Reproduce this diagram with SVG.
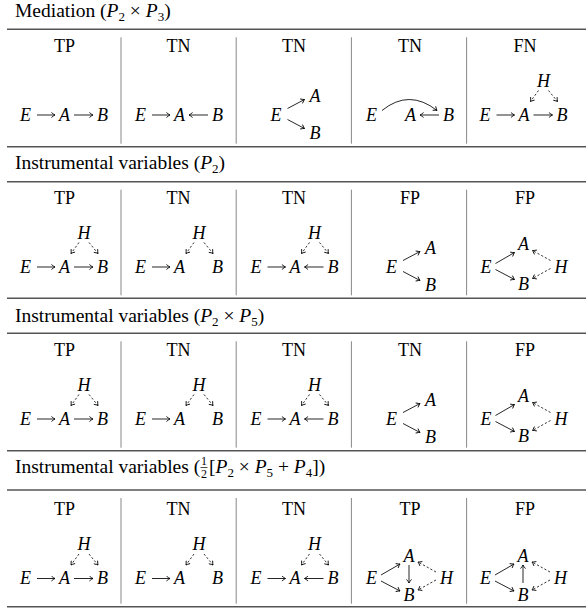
<svg xmlns="http://www.w3.org/2000/svg" width="586" height="610" viewBox="0 0 586 610" font-family="'Liberation Serif', 'Times New Roman', serif">
<style>
text{font-family:"Liberation Serif","Times New Roman",serif;fill:#000}
.t{font-size:19.5px}
.lab{font-size:18px;text-anchor:middle}
.v{font-size:18px;font-style:italic}
.vm{font-size:18px;font-style:italic;text-anchor:middle}
.fr{font-size:12px;text-anchor:middle}
.rule{stroke:#555;stroke-width:1.6}
.div{stroke:#888;stroke-width:1}
.ar{stroke:#000;stroke-width:0.85;fill:none;marker-end:url(#ah)}
.da{stroke:#000;stroke-width:0.8;fill:none;stroke-dasharray:2.2 2;marker-end:url(#ah)}
</style>
<defs>
<marker id="ah" viewBox="-5 -3 6 6" refX="0" refY="0" markerWidth="6" markerHeight="6" markerUnits="userSpaceOnUse" orient="auto">
<path d="M-3.6,-2.5 Q-1.2,-0.5 0,0 Q-1.2,0.5 -3.6,2.5" fill="none" stroke="#000" stroke-width="0.85"/>
</marker>
</defs>
<rect width="586" height="610" fill="#fff"/>

<g id="frame">
<text class="t" x="15" y="17">Mediation (<tspan font-style="italic">P</tspan><tspan font-size="13" dy="4">2</tspan><tspan dy="-4"> × </tspan><tspan font-style="italic">P</tspan><tspan font-size="13" dy="4">3</tspan><tspan dy="-4">)</tspan></text>
<line class="rule" x1="7" y1="29.3" x2="586" y2="29.3"/>
<line class="rule" x1="7" y1="146.7" x2="586" y2="146.7"/>
<text class="t" x="15" y="168.5">Instrumental variables (<tspan font-style="italic">P</tspan><tspan font-size="13" dy="4">2</tspan><tspan dy="-4">)</tspan></text>
<line class="rule" x1="7" y1="181.7" x2="586" y2="181.7"/>
<line class="rule" x1="7" y1="298.3" x2="586" y2="298.3"/>
<text class="t" x="15" y="321.5">Instrumental variables (<tspan font-style="italic">P</tspan><tspan font-size="13" dy="4">2</tspan><tspan dy="-4"> × </tspan><tspan font-style="italic">P</tspan><tspan font-size="13" dy="4">5</tspan><tspan dy="-4">)</tspan></text>
<line class="rule" x1="7" y1="333.3" x2="586" y2="333.3"/>
<line class="rule" x1="7" y1="450.7" x2="586" y2="450.7"/>
<text class="t" x="15" y="473">Instrumental variables (</text>
<text class="fr" x="204" y="465">1</text>
<line x1="200.5" y1="467.5" x2="207.5" y2="467.5" stroke="#000" stroke-width="0.7"/>
<text class="fr" x="204" y="477.5">2</text>
<text class="t" x="209" y="473">[<tspan font-style="italic">P</tspan><tspan font-size="13" dy="4">2</tspan><tspan dy="-4"> × </tspan><tspan font-style="italic">P</tspan><tspan font-size="13" dy="4">5</tspan><tspan dy="-4"> + </tspan><tspan font-style="italic">P</tspan><tspan font-size="13" dy="4">4</tspan><tspan dy="-4">])</tspan></text>
<line class="rule" x1="7" y1="490" x2="586" y2="490"/>
<line class="rule" x1="7" y1="606.7" x2="586" y2="606.7"/>
<g class="div">
<line x1="121" y1="37.3" x2="121" y2="143.7"/><line x1="236.2" y1="37.3" x2="236.2" y2="143.7"/><line x1="351.4" y1="37.3" x2="351.4" y2="143.7"/><line x1="466.6" y1="37.3" x2="466.6" y2="143.7"/>
<line x1="121" y1="189.7" x2="121" y2="295.3"/><line x1="236.2" y1="189.7" x2="236.2" y2="295.3"/><line x1="351.4" y1="189.7" x2="351.4" y2="295.3"/><line x1="466.6" y1="189.7" x2="466.6" y2="295.3"/>
<line x1="121" y1="341.3" x2="121" y2="447.7"/><line x1="236.2" y1="341.3" x2="236.2" y2="447.7"/><line x1="351.4" y1="341.3" x2="351.4" y2="447.7"/><line x1="466.6" y1="341.3" x2="466.6" y2="447.7"/>
<line x1="121" y1="498" x2="121" y2="603.7"/><line x1="236.2" y1="498" x2="236.2" y2="603.7"/><line x1="351.4" y1="498" x2="351.4" y2="603.7"/><line x1="466.6" y1="498" x2="466.6" y2="603.7"/>
</g>
</g>

<!-- Row 1 -->
<g id="r1c1"><text class="lab" x="64.5" y="52">TP</text><text class="v" x="20" y="120.5">E</text><text class="v" x="59" y="120.5">A</text><text class="v" x="97" y="120.5">B</text></g>
<g id="r1c2"><text class="lab" x="178.5" y="52">TN</text><text class="v" x="135" y="120.5">E</text><text class="v" x="174" y="120.5">A</text><text class="v" x="212" y="120.5">B</text></g>
<g id="r1c3"><text class="lab" x="294" y="52">TN</text><text class="v" x="270.5" y="120.5">E</text><text class="v" x="309.5" y="102">A</text><text class="v" x="309.5" y="138.5">B</text></g>
<g id="r1c4"><text class="lab" x="410" y="52">TN</text><text class="v" x="366" y="120.5">E</text><text class="v" x="405" y="120.5">A</text><text class="v" x="443" y="120.5">B</text></g>
<g id="r1c5"><text class="lab" x="525" y="52">FN</text><text class="v" x="479.5" y="120.5">E</text><text class="v" x="518.5" y="120.5">A</text><text class="v" x="556.5" y="120.5">B</text><text class="vm" x="543.5" y="86.5">H</text></g>

<!-- Row 2 -->
<g id="r2c1"><text class="lab" x="64.5" y="204">TP</text><text class="v" x="20" y="272.5">E</text><text class="v" x="59" y="272.5">A</text><text class="v" x="97" y="272.5">B</text><text class="vm" x="84" y="238.5">H</text></g>
<g id="r2c2"><text class="lab" x="178.5" y="204">TN</text><text class="v" x="135" y="272.5">E</text><text class="v" x="174" y="272.5">A</text><text class="v" x="212" y="272.5">B</text><text class="vm" x="199" y="238.5">H</text></g>
<g id="r2c3"><text class="lab" x="294" y="204">TN</text><text class="v" x="250.5" y="272.5">E</text><text class="v" x="289.5" y="272.5">A</text><text class="v" x="327.5" y="272.5">B</text><text class="vm" x="314.5" y="238.5">H</text></g>
<g id="r2c4"><text class="lab" x="410" y="204">FP</text><text class="v" x="386" y="272.5">E</text><text class="v" x="425" y="254">A</text><text class="v" x="425" y="290.5">B</text></g>
<g id="r2c5"><text class="lab" x="525" y="204">FP</text><text class="v" x="480.5" y="272.5">E</text><text class="v" x="518" y="250">A</text><text class="v" x="518" y="289.5">B</text><text class="v" x="554.5" y="272.5">H</text></g>

<!-- Row 3 -->
<g id="r3c1"><text class="lab" x="64.5" y="355.5">TP</text><text class="v" x="20" y="424.5">E</text><text class="v" x="59" y="424.5">A</text><text class="v" x="97" y="424.5">B</text><text class="vm" x="84" y="390.5">H</text></g>
<g id="r3c2"><text class="lab" x="178.5" y="355.5">TN</text><text class="v" x="135" y="424.5">E</text><text class="v" x="174" y="424.5">A</text><text class="v" x="212" y="424.5">B</text><text class="vm" x="199" y="390.5">H</text></g>
<g id="r3c3"><text class="lab" x="294" y="355.5">TN</text><text class="v" x="250.5" y="424.5">E</text><text class="v" x="289.5" y="424.5">A</text><text class="v" x="327.5" y="424.5">B</text><text class="vm" x="314.5" y="390.5">H</text></g>
<g id="r3c4"><text class="lab" x="410" y="355.5">TN</text><text class="v" x="386" y="424.5">E</text><text class="v" x="425" y="406">A</text><text class="v" x="425" y="442.5">B</text></g>
<g id="r3c5"><text class="lab" x="525" y="355.5">FP</text><text class="v" x="480.5" y="424.5">E</text><text class="v" x="518" y="402">A</text><text class="v" x="518" y="441.5">B</text><text class="v" x="554.5" y="424.5">H</text></g>

<!-- Row 4 -->
<g id="r4c1"><text class="lab" x="64.5" y="515">TP</text><text class="v" x="20" y="584">E</text><text class="v" x="59" y="584">A</text><text class="v" x="97" y="584">B</text><text class="vm" x="84" y="550">H</text></g>
<g id="r4c2"><text class="lab" x="178.5" y="515">TN</text><text class="v" x="135" y="584">E</text><text class="v" x="174" y="584">A</text><text class="v" x="212" y="584">B</text><text class="vm" x="199" y="550">H</text></g>
<g id="r4c3"><text class="lab" x="294" y="515">TN</text><text class="v" x="250.5" y="584">E</text><text class="v" x="289.5" y="584">A</text><text class="v" x="327.5" y="584">B</text><text class="vm" x="314.5" y="550">H</text></g>
<g id="r4c4"><text class="lab" x="410" y="515">TP</text><text class="v" x="366" y="584">E</text><text class="v" x="403.5" y="561.5">A</text><text class="v" x="403.5" y="601">B</text><text class="v" x="440" y="584">H</text></g>
<g id="r4c5"><text class="lab" x="525" y="515">FP</text><text class="v" x="480" y="584">E</text><text class="v" x="517.5" y="561.5">A</text><text class="v" x="517.5" y="601">B</text><text class="v" x="554" y="584">H</text></g>

<g id="connectors">
<!-- row 1 -->
<path class="ar" d="M37,115H55"/><path class="ar" d="M74,115H93"/>
<path class="ar" d="M152,115H170"/><path class="ar" d="M208,115H189"/>
<path class="ar" d="M287.5,108.5L304.5,99.5"/><path class="ar" d="M287.5,119.5L304.5,128.5"/>
<path class="ar" d="M439,115H420"/><path class="ar" d="M382,110.5Q409,88.5 437,110.5"/>
<path class="ar" d="M496.5,115H514.5"/><path class="ar" d="M533.5,115H552.5"/>
<path class="da" d="M538.5,90.5L530.5,101.5"/><path class="da" d="M548.5,90.5L557.5,101.5"/>
<!-- row 2 -->
<path class="ar" d="M37,267H55"/><path class="ar" d="M74,267H93"/>
<path class="da" d="M79,242.5L71,253.5"/><path class="da" d="M89,242.5L98,253.5"/>
<path class="ar" d="M152,267H170"/>
<path class="da" d="M194,242.5L186,253.5"/><path class="da" d="M204,242.5L213,253.5"/>
<path class="ar" d="M267.5,267H285.5"/><path class="ar" d="M323.5,267H304.5"/>
<path class="da" d="M309.5,242.5L301.5,253.5"/><path class="da" d="M319.5,242.5L328.5,253.5"/>
<path class="ar" d="M403,260.5L420,251.5"/><path class="ar" d="M403,271.5L420,280.5"/>
<path class="ar" d="M495.5,263.5L514.5,252.5"/><path class="ar" d="M495.5,269.5L514.5,279.5"/>
<path class="da" d="M550.5,260.5L532.5,250.5"/><path class="da" d="M550.5,268.5L532.5,278.5"/>
<!-- row 3 -->
<path class="ar" d="M37,419H55"/><path class="ar" d="M74,419H93"/>
<path class="da" d="M79,394.5L71,405.5"/><path class="da" d="M89,394.5L98,405.5"/>
<path class="ar" d="M152,419H170"/>
<path class="da" d="M194,394.5L186,405.5"/><path class="da" d="M204,394.5L213,405.5"/>
<path class="ar" d="M267.5,419H285.5"/><path class="ar" d="M323.5,419H304.5"/>
<path class="da" d="M309.5,394.5L301.5,405.5"/><path class="da" d="M319.5,394.5L328.5,405.5"/>
<path class="ar" d="M403,412.5L420,403.5"/><path class="ar" d="M403,423.5L420,432.5"/>
<path class="ar" d="M495.5,415.5L514.5,404.5"/><path class="ar" d="M495.5,421.5L514.5,431.5"/>
<path class="da" d="M550.5,412.5L532.5,402.5"/><path class="da" d="M550.5,420.5L532.5,430.5"/>
<!-- row 4 -->
<path class="ar" d="M37,578.5H55"/><path class="ar" d="M74,578.5H93"/>
<path class="da" d="M79,554L71,565"/><path class="da" d="M89,554L98,565"/>
<path class="ar" d="M152,578.5H170"/>
<path class="da" d="M194,554L186,565"/><path class="da" d="M204,554L213,565"/>
<path class="ar" d="M267.5,578.5H285.5"/><path class="ar" d="M323.5,578.5H304.5"/>
<path class="da" d="M309.5,554L301.5,565"/><path class="da" d="M319.5,554L328.5,565"/>
<path class="ar" d="M381,575L400,564"/><path class="ar" d="M381,581L400,591"/>
<path class="da" d="M436,572L418,562"/><path class="da" d="M436,580L418,590"/>
<path class="ar" d="M409,565V583"/>
<path class="ar" d="M495,575L514,564"/><path class="ar" d="M495,581L514,591"/>
<path class="da" d="M550,572L532,562"/><path class="da" d="M550,580L532,590"/>
<path class="ar" d="M523,583V565"/>
</g>
</svg>
